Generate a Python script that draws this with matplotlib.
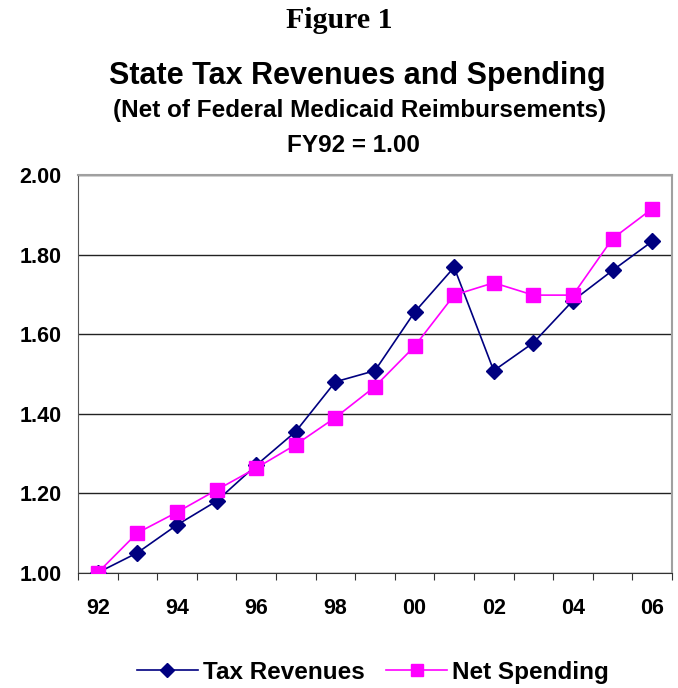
import numpy as np
import matplotlib
matplotlib.use("Agg")
import matplotlib.pyplot as plt

# fiscal years, indexed to FY92 = 1.00
years = ['92', '93', '94', '95', '96', '97', '98', '99',
         '00', '01', '02', '03', '04', '05', '06']
tax_rev = [1.00, 1.05, 1.12, 1.18, 1.27, 1.355, 1.48, 1.508,
           1.655, 1.768, 1.508, 1.578, 1.684, 1.76, 1.833]
net_spend = [1.00, 1.10, 1.152, 1.208, 1.263, 1.322, 1.39, 1.468,
             1.569, 1.698, 1.729, 1.698, 1.698, 1.84, 1.915]
yticks = [1.00, 1.20, 1.40, 1.60, 1.80, 2.00]

plt.rcParams['font.family'] = ['Liberation Sans', 'DejaVu Sans']

fig = plt.figure(figsize=(6.78, 6.88), dpi=100)
ax = fig.add_axes([0.115, 0.1676, 0.876, 0.578])

x = np.arange(len(years))
ax.plot(x, tax_rev, color='#000080', lw=1.2, marker='D', ms=8.5,
        label='Tax Revenues', zorder=3)
ax.plot(x, net_spend, color='#ff00ff', lw=1.2, marker='s', ms=10.5,
        label='Net Spending', zorder=4)

ax.set_xlim(-0.5, len(years) - 0.5)
ax.set_ylim(1.0, 2.0)
ax.set_yticks(yticks)
ax.set_yticklabels(['%.2f' % v for v in yticks], fontsize=15.5, fontweight='bold')
ax.yaxis.grid(True, color='#222222', lw=1.0)
ax.set_axisbelow(True)
ax.tick_params(axis='y', length=0, pad=12)

# category boundaries get the tick marks, every second year gets a label
ax.set_xticks(np.arange(len(years) + 1) - 0.5)
ax.set_xticklabels([])
ax.tick_params(axis='x', which='major', direction='out', length=5, color='#333333')
ax.set_xticks(x[::2], minor=True)
ax.set_xticklabels(years[::2], minor=True, fontsize=15.5, fontweight='bold')
ax.tick_params(axis='x', which='minor', length=0, pad=18)

for s in ['top', 'right']:
    ax.spines[s].set_color('#a0a0a0')
    ax.spines[s].set_linewidth(1.5)
ax.spines['left'].set_color('#555555')
ax.spines['bottom'].set_color('#333333')

fig.text(0.5, 0.970, 'Figure 1', ha='center', va='center', fontsize=21.5,
         fontweight='bold', family='Liberation Serif')
fig.text(0.527, 0.889, 'State Tax Revenues and Spending', ha='center', va='center',
         fontsize=22, fontweight='bold')
fig.text(0.531, 0.840, '(Net of Federal Medicaid Reimbursements)', ha='center',
         va='center', fontsize=17.5, fontweight='bold')
fig.text(0.522, 0.788, 'FY92 = 1.00', ha='center', va='center', fontsize=17.5,
         fontweight='bold')

fig.legend(loc='center', bbox_to_anchor=(0.55, 0.023), ncol=2, frameon=False,
           prop={'size': 17.5, 'weight': 'bold'}, handlelength=2.5,
           handletextpad=0.2, columnspacing=0.9, markerscale=0.8)

fig.savefig('out.png', dpi=100)
